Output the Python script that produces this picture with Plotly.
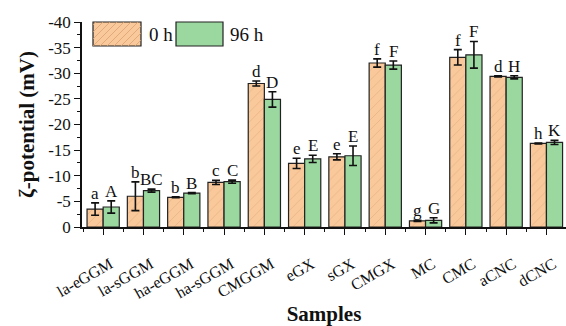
import plotly.graph_objects as go

samples = ["la-eGGM", "la-sGGM", "ha-eGGM", "ha-sGGM", "CMGGM", "eGX", "sGX",
           "CMGX", "MC", "CMC", "aCNC", "dCNC"]
zeta_0h = [-3.5, -6.0, -5.8, -8.7, -28.0, -12.4, -13.7, -32.0, -1.2, -33.1, -29.4, -16.3]
err_0h = [1.2, 2.8, 0.1, 0.4, 0.5, 1.0, 0.6, 0.8, 0.1, 1.5, 0.1, 0.1]
zeta_96h = [-3.9, -7.1, -6.6, -8.85, -24.9, -13.3, -13.9, -31.6, -1.3, -33.6, -29.2, -16.5]
err_96h = [1.2, 0.3, 0.1, 0.3, 1.5, 0.7, 1.9, 0.8, 0.5, 2.6, 0.3, 0.4]
letters_0h = ["a", "b", "b", "c", "d", "e", "e", "f", "g", "f", "d", "h"]
letters_96h = ["A", "BC", "B", "C", "D", "E", "E", "F", "G", "F", "H", "K"]
y_ticks = [0, -5, -10, -15, -20, -25, -30, -35, -40]

ORANGE = "#F9C89B"
HATCH = "#D9A271"
GREEN = "#9AD8A0"
FONT = "Times New Roman, Liberation Serif, serif"

x = list(range(len(samples)))
fig = go.Figure()
fig.add_trace(go.Bar(
    x=x, y=zeta_0h, name="0 h", width=0.4, offset=-0.4,
    marker=dict(color=ORANGE, line=dict(color="#222", width=1.2),
                pattern=dict(shape="/", fgcolor=HATCH, bgcolor=ORANGE, size=7, solidity=0.12)),
    error_y=dict(type="data", array=err_0h, color="#111", thickness=1.6, width=4),
    showlegend=False,
))
fig.add_trace(go.Bar(
    x=x, y=zeta_96h, name="96 h", width=0.4, offset=0.0,
    marker=dict(color=GREEN, line=dict(color="#222", width=1.2)),
    error_y=dict(type="data", array=err_96h, color="#111", thickness=1.6, width=4),
    showlegend=False,
))

ann = []
for i in x:
    ann.append(dict(x=i - 0.2, y=zeta_0h[i] - err_0h[i], text=letters_0h[i], showarrow=False,
                    xref="x", yref="y", yanchor="bottom", yshift=-2,
                    font=dict(family=FONT, size=17, color="#111")))
    ann.append(dict(x=i + 0.2, y=zeta_96h[i] - err_96h[i], text=letters_96h[i], showarrow=False,
                    xref="x", yref="y", yanchor="bottom", yshift=-2,
                    font=dict(family=FONT, size=17, color="#111")))

shapes = []

fig.update_layout(
    width=566, height=326,
    margin=dict(l=82, r=0, t=22, b=99),
    paper_bgcolor="white", plot_bgcolor="white",
    barmode="overlay",
    font=dict(family=FONT, size=14, color="#111"),
    xaxis=dict(
        range=[-0.525, 11.485], tickmode="array", tickvals=x, ticktext=samples,
        tickangle=-30, ticks="outside", ticklen=6, tickwidth=1.2, tickcolor="#111",
        showline=True, linecolor="#111", linewidth=1.5, showgrid=False, zeroline=False,
        tickfont=dict(family=FONT, size=16), automargin=False, ticklabelstandoff=14,
        ticklabelshift=7,
        minor=dict(tickmode="linear", tick0=-0.5, dtick=1, ticks="outside", ticklen=3,
                   tickcolor="#111", tickwidth=1.2),
        title=dict(text="<b>Samples</b>", font=dict(family=FONT, size=21), standoff=8),
    ),
    yaxis=dict(
        range=[0, -40], tickmode="array", tickvals=y_ticks, ticktext=[str(v) for v in y_ticks],
        ticks="outside", ticklen=6, tickwidth=1.2, tickcolor="#111",
        showline=True, linecolor="#111", linewidth=1.5, showgrid=False, zeroline=False,
        tickfont=dict(family=FONT, size=17), automargin=False,
        minor=dict(tickmode="linear", tick0=0, dtick=2.5, ticks="outside", ticklen=3,
                   tickcolor="#111", tickwidth=1.2),
        title=dict(text="<b>ζ-potential (mV)</b>", font=dict(family=FONT, size=21), standoff=8),
    ),
)

# legend drawn manually (larger swatches as in the original)
leg_items = [(93, 141, 147, "0 h", ORANGE, True), (176, 223, 228, "96 h", GREEN, False)]
for x0, x1, tx, label, col, hatch in leg_items:
    shapes.append(dict(type="rect", xref="paper", yref="paper",
                       x0=(x0 - 82) / 484, x1=(x1 - 82) / 484,
                       y0=(227 - 46) / 205, y1=(227 - 22) / 205,
                       fillcolor=col, line=dict(color="#222", width=1.2), layer="above"))
    if hatch:
        for k in range(-3, 8):
            ax0 = x0 + k * 7
            ax1 = ax0 + 24
            segx0, segy0, segx1, segy1 = ax0, 46, ax1, 22
            if segx0 < x0:
                segy0 = 46 - (x0 - segx0)
                segx0 = x0
            if segx1 > x1:
                segy1 = 22 + (segx1 - x1)
                segx1 = x1
            if segx0 >= segx1:
                continue
            shapes.append(dict(type="line", xref="paper", yref="paper",
                               x0=(segx0 - 82) / 484, x1=(segx1 - 82) / 484,
                               y0=(227 - segy0) / 205, y1=(227 - segy1) / 205,
                               line=dict(color=HATCH, width=0.8), layer="above"))
    ann.append(dict(x=(tx - 82) / 484, y=(227 - 34) / 205, xref="paper", yref="paper",
                    xanchor="left", yanchor="middle", text=label, showarrow=False,
                    font=dict(family=FONT, size=19, color="#111")))
fig.update_layout(annotations=ann, shapes=shapes)

fig.write_html("out.html", config={"displayModeBar": False},
               post_script="document.body.style.margin='0';document.body.style.overflow='hidden';")
